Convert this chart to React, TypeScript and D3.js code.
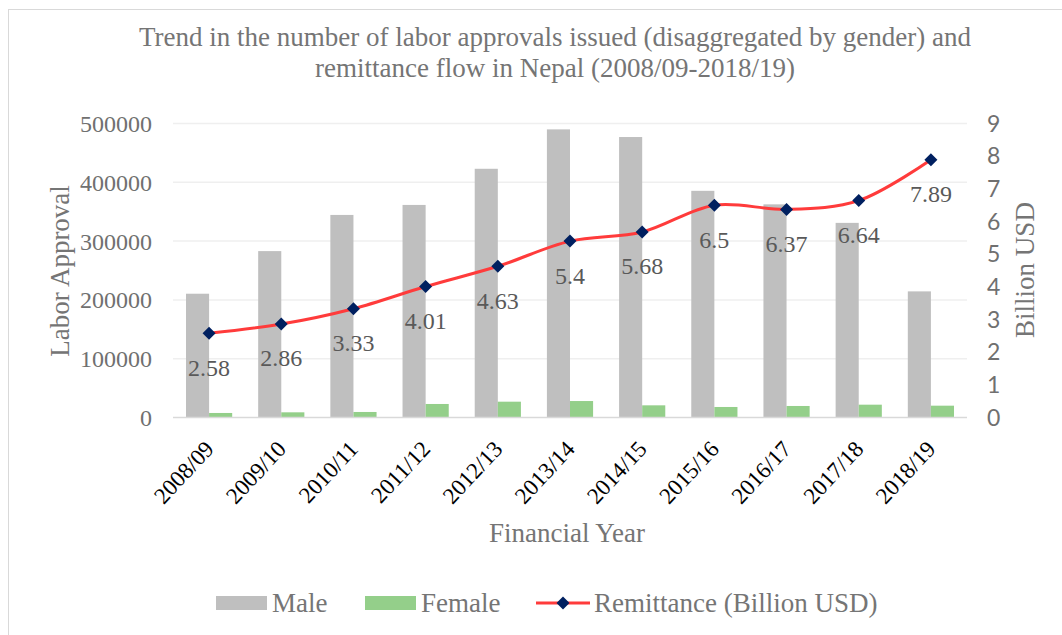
import React from "react";
import * as d3 from "d3";

const years = ["2008/09","2009/10","2010/11","2011/12","2012/13","2013/14","2014/15","2015/16","2016/17","2017/18","2018/19"];
const male = [210500, 283000, 344500, 361500, 423000, 490000, 477000, 385500, 362500, 331000, 214500];
const female = [7700, 8800, 9400, 23000, 26900, 28000, 20700, 17900, 19600, 21800, 20100];
const remittance = [2.58, 2.86, 3.33, 4.01, 4.63, 5.4, 5.68, 6.5, 6.37, 6.64, 7.89];
const leftTicks = [0, 100000, 200000, 300000, 400000, 500000];
const rightTicks = [0, 1, 2, 3, 4, 5, 6, 7, 8, 9];
const titleLines = [
  "Trend in the number of labor approvals issued (disaggregated by gender) and",
  "remittance flow in Nepal (2008/09-2018/19)",
];
const seriesNames = ["Male", "Female", "Remittance (Billion USD)"];

const SERIF = "'Liberation Serif', 'Times New Roman', serif";
const SANS = "Lato, 'Liberation Sans', sans-serif";

export default function App() {
  const W = 1062, H = 635;
  const x0 = 173, x1 = 967, yBase = 417.5, yTop = 123.5;
  const x = d3.scaleBand<string>().domain(years).range([x0, x1]).paddingInner(0.36).paddingOuter(0.18);
  const sub = d3.scaleBand<string>().domain(["Male", "Female"]).range([0, x.bandwidth()]);
  const yL = d3.scaleLinear().domain([0, 500000]).range([yBase, yTop]);
  const yR = d3.scaleLinear().domain([0, 9]).range([yBase, yTop]);
  const cx = (y: string) => (x(y) as number) + x.bandwidth() / 2;
  const line = d3.line<number>().x((_, i) => cx(years[i])).y((v) => yR(v)).curve(d3.curveCatmullRom.alpha(0.5));
  const diamond = (px: number, py: number, r: number) => `M${px},${py - r}L${px + r},${py}L${px},${py + r}L${px - r},${py}Z`;

  return (
    <svg width={W} height={H} style={{ position: "absolute", left: 0, top: 0, background: "#fff" }}>
      <rect x={8.5} y={9.5} width={1200} height={700} fill="#fff" stroke="#d9d9d9" strokeWidth={1} />
      {titleLines.map((t, i) => (
        <text key={i} x={555} y={46 + i * 31} textAnchor="middle" fontFamily={SERIF} fontSize={27} fill="#757575">{t}</text>
      ))}
      {leftTicks.map((t) => (
        <g key={t}>
          {t > 0 && <line x1={x0} x2={x1} y1={yL(t)} y2={yL(t)} stroke="#efefef" strokeWidth={1.5} />}
          <text x={152} y={yL(t)} dy="0.35em" textAnchor="end" fontFamily={SERIF} fontSize={24} fill="#707070">{t}</text>
        </g>
      ))}
      {rightTicks.map((t) => (
        <text key={t} x={987} y={yR(t)} dy="0.36em" textAnchor="start" fontFamily={SANS} fontSize={23} fill="#707070">{t}</text>
      ))}
      {years.map((yr, i) => (
        <g key={yr}>
          <rect x={(x(yr) as number) + (sub("Male") as number)} y={yL(male[i])} width={sub.bandwidth()} height={yBase - yL(male[i])} fill="#bfbfbf" />
          <rect x={(x(yr) as number) + (sub("Female") as number)} y={yL(female[i])} width={sub.bandwidth()} height={yBase - yL(female[i])} fill="#94cf8a" />
        </g>
      ))}
      <line x1={x0} x2={x1} y1={yBase} y2={yBase} stroke="#d9d9d9" strokeWidth={1.5} />
      <path d={line(remittance) || ""} fill="none" stroke="#ff3b3b" strokeWidth={3} />
      {remittance.map((v, i) => (
        <path key={i} d={diamond(cx(years[i]), yR(v), 6.5)} fill="#002060" />
      ))}
      {remittance.map((v, i) => (
        <text key={i} x={cx(years[i])} y={yR(v) + 34} dy="0.35em" textAnchor="middle" fontFamily={SERIF} fontSize={24} fill="#595959">{v}</text>
      ))}
      {years.map((yr) => (
        <text key={yr} transform={`translate(${cx(yr) + 6},${450}) rotate(-47)`} textAnchor="end" fontFamily={SERIF} fontSize={23} fill="#000">{yr}</text>
      ))}
      <text x={567} y={533} dy="0.35em" textAnchor="middle" fontFamily={SERIF} fontSize={27} fill="#757575">Financial Year</text>
      <text transform="translate(60,271) rotate(-90)" dy="0.35em" textAnchor="middle" fontFamily={SERIF} fontSize={27} fill="#757575">Labor Approval</text>
      <text transform="translate(1025,270) rotate(-90)" dy="0.35em" textAnchor="middle" fontFamily={SERIF} fontSize={27} fill="#757575">Billion USD</text>
      <g>
        <rect x={216} y={596} width={51} height={14} fill="#bfbfbf" />
        <text x={272} y={603} dy="0.35em" fontFamily={SERIF} fontSize={27} fill="#757575">{seriesNames[0]}</text>
        <rect x={365} y={596} width={51} height={14} fill="#94cf8a" />
        <text x={421} y={603} dy="0.35em" fontFamily={SERIF} fontSize={27} fill="#757575">{seriesNames[1]}</text>
        <line x1={536} x2={590} y1={603} y2={603} stroke="#ff3b3b" strokeWidth={3} />
        <path d={diamond(563, 603, 6.5)} fill="#002060" />
        <text x={594} y={603} dy="0.35em" fontFamily={SERIF} fontSize={27} fill="#757575">{seriesNames[2]}</text>
      </g>
    </svg>
  );
}
